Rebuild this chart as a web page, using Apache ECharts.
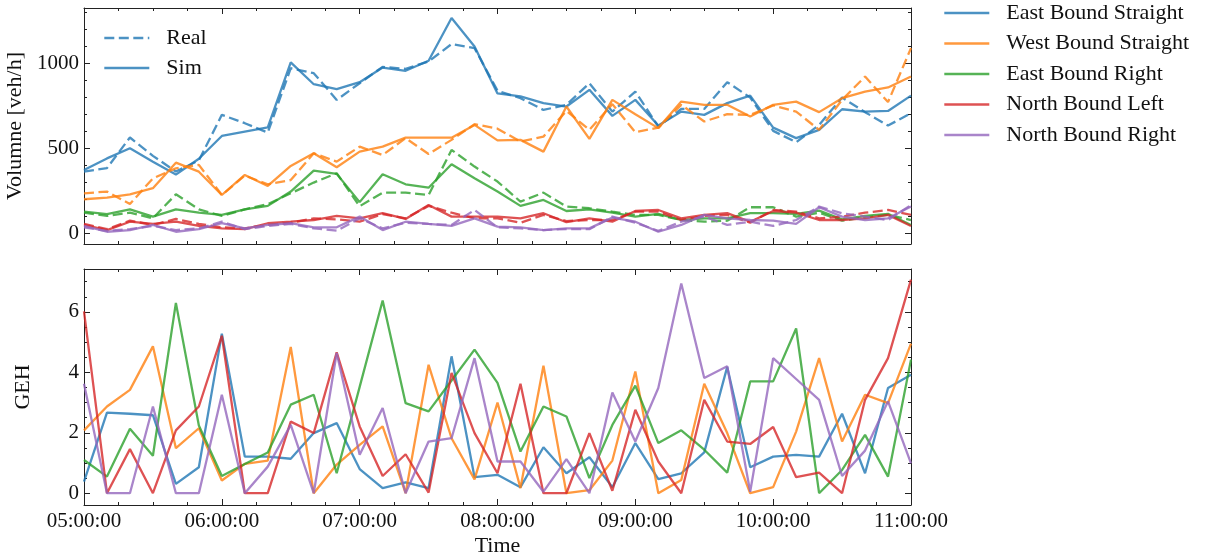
<!DOCTYPE html>
<html>
<head>
<meta charset="utf-8">
<title>Volume and GEH</title>
<script src="https://cdn.jsdelivr.net/npm/echarts@6/dist/echarts.min.js"></script>
<style>
  html, body { margin: 0; padding: 0; background: #fff; }
  #chart { width: 1218px; height: 560px; }
</style>
</head>
<body>
<div id="chart"></div>
<script>
// 10-minute intervals
const times = [
  '05:00:00','05:10:00','05:20:00','05:30:00','05:40:00','05:50:00',
  '06:00:00','06:10:00','06:20:00','06:30:00','06:40:00','06:50:00',
  '07:00:00','07:10:00','07:20:00','07:30:00','07:40:00','07:50:00',
  '08:00:00','08:10:00','08:20:00','08:30:00','08:40:00','08:50:00',
  '09:00:00','09:10:00','09:20:00','09:30:00','09:40:00','09:50:00',
  '10:00:00','10:10:00','10:20:00','10:30:00','10:40:00','10:50:00',
  '11:00:00'
];
const hourLabels = ['05:00:00','06:00:00','07:00:00','08:00:00','09:00:00','10:00:00','11:00:00'];

const directions = ['East Bound Straight','West Bound Straight','East Bound Right','North Bound Left','North Bound Right'];
const colors = ['#1f77b4','#ff7f0e','#2ca02c','#d62728','#9467bd'];

// Volumes [veh/h]: counted (real) vs simulated
const ebsReal = [362,383,563,455,363,428,696,647,592,970,941,784,882,978,966,1010,1112,1088,838,794,725,755,882,715,833,627,731,731,888,798,602,535,637,798,712,633,706];
const ebsSim  = [372,440,500,421,345,438,572,598,622,1004,876,847,888,974,955,1014,1265,1098,822,804,765,745,843,690,784,633,715,696,765,809,621,559,608,729,715,719,809];
const wbsReal = [235,245,172,323,382,402,225,339,288,313,470,421,509,460,559,466,549,641,615,539,568,719,608,759,594,621,755,657,700,696,751,715,608,784,921,771,1088];
const wbsSim  = [200,209,229,265,415,362,225,343,278,396,470,388,480,509,562,562,562,637,546,549,480,745,555,784,700,618,774,755,755,686,755,774,712,794,833,857,921];
const ebrReal = [121,102,121,88,229,141,102,141,171,235,298,353,159,239,239,225,490,392,304,186,239,157,147,127,108,108,78,68,74,153,153,98,121,74,94,108,78];
const ebrSim  = [127,112,141,98,141,121,108,141,161,245,368,349,183,347,288,268,406,323,245,161,196,131,141,121,98,114,78,88,88,118,118,114,133,82,102,114,49];
const nblReal = [55,24,74,49,84,55,35,29,49,62,88,82,68,112,88,161,121,88,88,62,108,72,78,78,127,127,78,102,108,62,137,127,88,98,121,137,108];
const nblSim  = [49,19,68,55,68,43,29,25,59,68,78,102,88,118,84,166,98,98,98,88,118,65,88,68,131,137,88,108,118,68,131,121,78,78,88,108,43];
const nbrReal = [35,14,24,43,19,29,68,24,43,55,29,15,88,29,62,55,49,137,35,29,19,25,24,98,62,14,68,98,49,68,43,78,157,118,98,78,166];
const nbrSim  = [43,9,19,49,9,25,59,29,49,59,35,35,98,19,68,55,43,88,39,35,19,29,29,92,68,9,49,108,88,78,74,55,153,98,78,88,157];

// GEH statistic per interval
const gehEbs = [0.38,2.67,2.63,2.58,0.31,0.86,5.28,1.21,1.21,1.14,1.99,2.32,0.80,0.17,0.36,0.17,4.53,0.53,0.61,0.20,1.52,0.66,1.19,0.20,1.66,0.47,0.66,1.35,4.18,0.86,1.21,1.27,1.21,2.63,0.66,3.48,3.92];
const gehWbs = [2.08,2.87,3.42,4.86,1.49,2.15,0.42,0.97,1.08,4.84,0.00,0.95,1.60,2.21,0.00,4.25,1.82,0.46,3.00,0.17,4.22,0.00,0.10,1.08,4.03,0.00,0.44,3.62,1.99,0.00,0.20,2.04,4.47,1.71,3.26,2.98,4.95];
const gehEbr = [1.10,0.55,2.13,1.24,6.30,2.24,0.57,0.97,1.35,2.93,3.26,0.66,3.52,6.38,2.98,2.71,3.73,4.75,3.65,1.38,2.87,2.54,0.50,2.26,3.56,1.66,2.08,1.44,0.68,3.70,3.70,5.45,0.00,0.77,1.93,0.55,4.42];
const gehNbl = [6.02,0.00,1.46,0.00,2.08,2.87,5.21,0.00,0.00,2.37,1.99,4.66,2.21,0.57,1.29,0.02,3.98,1.99,0.66,3.62,0.00,0.00,1.99,0.08,2.76,1.05,0.00,3.09,1.71,1.63,2.19,0.53,0.68,0.00,3.09,4.47,7.07];
const gehNbr = [3.62,0.00,0.00,2.87,0.00,0.00,3.26,0.00,0.88,2.26,0.00,4.64,1.27,2.82,0.00,1.71,1.82,4.47,1.05,1.05,0.05,1.13,0.00,3.33,1.71,3.48,6.94,3.81,4.20,0.05,4.47,3.78,3.09,0.57,1.41,3.04,0.99];

const realSets = [ebsReal, wbsReal, ebrReal, nblReal, nbrReal];
const simSets  = [ebsSim, wbsSim, ebrSim, nblSim, nbrSim];
const gehSets  = [gehEbs, gehWbs, gehEbr, gehNbl, gehNbr];

const FONT = 'Liberation Serif';
const INK = '#222';
const FS_TICK = 21;
const FS_TEXT = 22;
const LW = 2.3;

// minutes after 05:00
function toMin(t) {
  const p = t.split(':').map(Number);
  return (p[0] - 5) * 60 + p[1] + p[2] / 60;
}
const xs = times.map(toMin);
const pairs = arr => arr.map((v, i) => [xs[i], v]);
const hourLabelByMin = {};
hourLabels.forEach(h => { hourLabelByMin[Math.round(toMin(h))] = h; });

function xAxisFor(gridIndex, position, showLabels) {
  return {
    type: 'value', gridIndex, position,
    min: 0, max: 360, interval: 60,
    axisLine: { show: true, onZero: false, lineStyle: { color: INK, width: 1 } },
    axisTick: { show: true, inside: true, length: 6, lineStyle: { color: INK, width: 1 } },
    minorTick: { show: true, splitNumber: 4, length: 3, lineStyle: { color: INK, width: 1 } },
    splitLine: { show: false },
    axisLabel: {
      show: showLabels, margin: 6, color: '#111', fontFamily: FONT, fontSize: FS_TICK,
      formatter: v => hourLabelByMin[Math.round(v)] || ''
    }
  };
}
function yAxisFor(gridIndex, position, min, max, split, minorSplit, showLabels, name, nameGap) {
  return {
    type: 'value', gridIndex, position, min, max, splitNumber: split,
    name: name || '', nameLocation: 'middle', nameGap: nameGap || 0,
    nameTextStyle: { color: '#111', fontFamily: FONT, fontSize: FS_TEXT },
    axisLine: { show: true, onZero: false, lineStyle: { color: INK, width: 1 } },
    axisTick: { show: true, inside: true, length: 6, lineStyle: { color: INK, width: 1 } },
    minorTick: { show: true, splitNumber: minorSplit, length: 3, lineStyle: { color: INK, width: 1 } },
    splitLine: { show: false },
    axisLabel: {
      show: showLabels, margin: 5, color: '#111', fontFamily: FONT, fontSize: FS_TICK,
      showMinLabel: false, showMaxLabel: false,
      formatter: v => String(v)
    }
  };
}

const volMin = -63, volMax = 1324;
const gehMin = -0.39, gehMax = 7.42;

const series = [];
for (let k = 0; k < 5; k++) {
  series.push({
    name: 'Real', type: 'line', xAxisIndex: 0, yAxisIndex: 0,
    data: pairs(realSets[k]), symbol: 'none', animation: false,
    lineStyle: { color: colors[k], width: LW, opacity: 0.8, type: [10, 4.5] },
    itemStyle: { color: colors[k], opacity: 0.8 }, z: 2
  });
  series.push({
    name: 'Sim', type: 'line', xAxisIndex: 0, yAxisIndex: 0,
    data: pairs(simSets[k]), symbol: 'none', animation: false,
    lineStyle: { color: colors[k], width: LW, opacity: 0.8, type: 'solid' },
    itemStyle: { color: colors[k], opacity: 0.8 }, z: 2
  });
}
for (let k = 0; k < 5; k++) {
  series.push({
    name: directions[k], type: 'line', xAxisIndex: 2, yAxisIndex: 2,
    data: pairs(gehSets[k]), symbol: 'none', animation: false,
    lineStyle: { color: colors[k], width: LW, opacity: 0.8 },
    itemStyle: { color: colors[k], opacity: 0.8 }, z: 2
  });
}

const legendText = {
  color: '#111', fontFamily: FONT, fontSize: FS_TEXT, lineHeight: 20,
  padding: [0, 0, 0, 12]
};
const legendCommon = {
  orient: 'vertical', padding: 0, itemWidth: 45, itemHeight: 20,
  textStyle: legendText, selectedMode: false,
  itemStyle: { opacity: 0 },
  lineStyle: { width: 2.6 }
};

const option = {
  backgroundColor: '#fff',
  animation: false,
  grid: [
    { left: 84, right: 307, top: 8, height: 236, outerBoundsMode: 'none', containLabel: false },
    { left: 84, right: 307, top: 269, height: 236, outerBoundsMode: 'none', containLabel: false }
  ],
  xAxis: [
    xAxisFor(0, 'bottom', false),
    xAxisFor(0, 'top', false),
    Object.assign(xAxisFor(1, 'bottom', true), {
      name: 'Time', nameLocation: 'middle', nameGap: 30,
      nameTextStyle: { color: '#111', fontFamily: FONT, fontSize: FS_TEXT }
    }),
    xAxisFor(1, 'top', false)
  ],
  yAxis: [
    yAxisFor(0, 'left', volMin, volMax, 3, 5, true, 'Volumne [veh/h]', 51),
    yAxisFor(0, 'right', volMin, volMax, 3, 5, false),
    yAxisFor(1, 'left', gehMin, gehMax, 4, 4, true, 'GEH', 50),
    yAxisFor(1, 'right', gehMin, gehMax, 4, 4, false)
  ],
  legend: [
    Object.assign({ data: ['Real', 'Sim'], left: 103, top: 27, itemGap: 8 }, legendCommon),
    Object.assign({ data: directions, left: 943, top: 2, itemGap: 8.5 }, legendCommon)
  ],
  series
};

const chart = echarts.init(document.getElementById('chart'), null, { renderer: 'canvas' });
chart.setOption(option);
</script>
</body>
</html>
